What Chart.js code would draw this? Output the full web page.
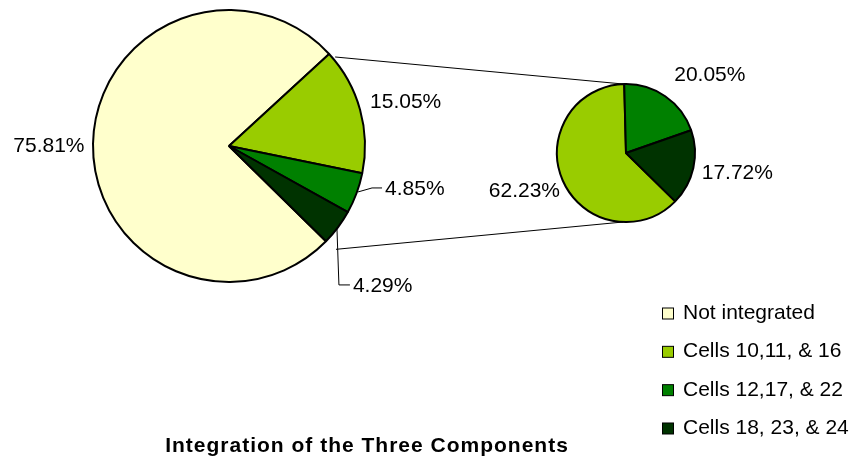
<!DOCTYPE html>
<html>
<head>
<meta charset="utf-8">
<script src="https://cdn.jsdelivr.net/npm/chart.js@4.4.1/dist/chart.umd.min.js"></script>
<style>
  html, body { margin: 0; padding: 0; background: #ffffff; overflow: hidden; }
  #wrap { position: relative; width: 856px; height: 464px; }
  #wrap canvas { position: absolute; left: 0; top: 0; }
</style>
</head>
<body>
<div id="wrap">
  <canvas id="mainPie" width="856" height="464"></canvas>
  <canvas id="subPie" width="856" height="464"></canvas>
</div>
<script>
// ---- data ----
const categories = ['Not integrated', 'Cells 10,11, & 16', 'Cells 12,17, & 22', 'Cells 18, 23, & 24'];
const mainValues = [75.81, 15.05, 4.85, 4.29];
const subCategories = ['Cells 10,11, & 16', 'Cells 12,17, & 22', 'Cells 18, 23, & 24'];
const subValues = [62.23, 20.05, 17.72];
const chartTitle = 'Integration of the Three Components';

// ---- styles ----
const sliceColors = ['#FFFFCC', '#99CC00', '#008000', '#003300'];
const subColors = sliceColors.slice(1);
const fontFamily = '"Liberation Sans", Arial, Helvetica, sans-serif';
const borderW = 2;

// label offsets relative to slice edge point at mid angle
const mainLabelStyle = [
  { dx: -8.5, dy: 0.3, align: 'right' },
  { dx: 10, dy: -9.6, align: 'left' },
  { dx: 28.5, dy: -5.6, align: 'left', leader: [[1.5, -1.3], [15.5, -5.3], [25.5, -5.3]] },
  { dx: 15, dy: 57.5, align: 'left', leader: [[-1, 0.5], [1, 57.5], [12, 57.5]] }
];
const subLabelStyle = [
  { dx: -2.7, dy: 8.8, align: 'right' },
  { dx: 9, dy: -23, align: 'left' },
  { dx: 8.4, dy: 3.6, align: 'left' }
];

function pct(v) { return v.toFixed(2) + '%'; }

function drawLabels(chart, values, styles) {
  const ctx = chart.ctx;
  const arcs = chart.getDatasetMeta(0).data;
  ctx.save();
  ctx.font = '21px ' + fontFamily;
  ctx.fillStyle = '#000';
  ctx.strokeStyle = '#000';
  ctx.lineWidth = 1;
  ctx.textBaseline = 'alphabetic';
  arcs.forEach((arc, i) => {
    const mid = (arc.startAngle + arc.endAngle) / 2;
    const ex = arc.x + arc.outerRadius * Math.cos(mid);
    const ey = arc.y + arc.outerRadius * Math.sin(mid);
    const s = styles[i];
    if (s.leader) {
      ctx.beginPath();
      s.leader.forEach(([lx, ly], k) => {
        if (k === 0) ctx.moveTo(ex + lx, ey + ly); else ctx.lineTo(ex + lx, ey + ly);
      });
      ctx.stroke();
    }
    ctx.textAlign = s.align;
    ctx.fillText(pct(values[i]), ex + s.dx, ey + s.dy + 7.5);
  });
  ctx.restore();
}

const commonOptions = {
  responsive: false,
  animation: false,
  events: [],
  plugins: { legend: { display: false }, tooltip: { enabled: false }, title: { display: false } }
};

const mainLabelsPlugin = {
  id: 'mainLabels',
  afterDraw(chart) { drawLabels(chart, mainValues, mainLabelStyle); }
};

const mainChart = new Chart(document.getElementById('mainPie'), {
  type: 'pie',
  data: {
    labels: categories,
    datasets: [{
      data: mainValues,
      backgroundColor: sliceColors,
      borderColor: '#000000',
      borderWidth: borderW,
      hoverBorderWidth: borderW,
      hoverOffset: 0,
      offset: 0
    }]
  },
  options: Object.assign({}, commonOptions, {
    rotation: 134.5,
    layout: { padding: { left: 92, top: 9, right: 490, bottom: 181 } }
  }),
  plugins: [mainLabelsPlugin]
});

const overlayPlugin = {
  id: 'overlay',
  beforeDatasetsDraw(chart) {
    // connector lines between the main pie and the secondary pie
    const ctx = chart.ctx;
    const mArcs = mainChart.getDatasetMeta(0).data;
    const sArc = chart.getDatasetMeta(0).data[0];
    const a1 = mArcs[1].startAngle;
    const a3 = mArcs[3].endAngle;
    const R = mArcs[1].outerRadius;
    const cx = mArcs[1].x, cy = mArcs[1].y;
    ctx.save();
    ctx.strokeStyle = '#000';
    ctx.lineWidth = 1;
    ctx.beginPath();
    ctx.moveTo(cx + R * Math.cos(a1) + 6, cy + R * Math.sin(a1) + 3);
    ctx.lineTo(sArc.x - 3, sArc.y - sArc.outerRadius);
    ctx.moveTo(cx + R * Math.cos(a3) + 10, cy + R * Math.sin(a3) + 8);
    ctx.lineTo(sArc.x - 3, sArc.y + sArc.outerRadius);
    ctx.stroke();
    ctx.restore();
  },
  afterDraw(chart) {
    drawLabels(chart, subValues, subLabelStyle);
    const ctx = chart.ctx;
    ctx.save();
    // legend
    ctx.font = '21px ' + fontFamily;
    ctx.textAlign = 'left';
    ctx.textBaseline = 'alphabetic';
    categories.forEach((name, i) => {
      const base = 319 + i * 38.33;
      ctx.fillStyle = sliceColors[i];
      ctx.fillRect(662.5, base - 11, 11, 11);
      ctx.strokeStyle = '#000';
      ctx.lineWidth = 1;
      ctx.strokeRect(662.5, base - 11, 11, 11);
      ctx.fillStyle = '#000';
      ctx.fillText(name, 683, base);
    });
    // title
    ctx.font = 'bold 21px ' + fontFamily;
    if ('letterSpacing' in ctx) ctx.letterSpacing = '1px';
    const w = ctx.measureText(chartTitle).width;
    ctx.fillText(chartTitle, 367 - w / 2, 452);
    ctx.restore();
  }
};

const subChart = new Chart(document.getElementById('subPie'), {
  type: 'pie',
  data: {
    labels: subCategories,
    datasets: [{
      data: subValues,
      backgroundColor: subColors,
      borderColor: '#000000',
      borderWidth: borderW,
      hoverBorderWidth: borderW,
      hoverOffset: 0,
      offset: 0
    }]
  },
  options: Object.assign({}, commonOptions, {
    rotation: 134.5,
    layout: { padding: { left: 556, top: 83, right: 160, bottom: 241 } }
  }),
  plugins: [overlayPlugin]
});
</script>
</body>
</html>
